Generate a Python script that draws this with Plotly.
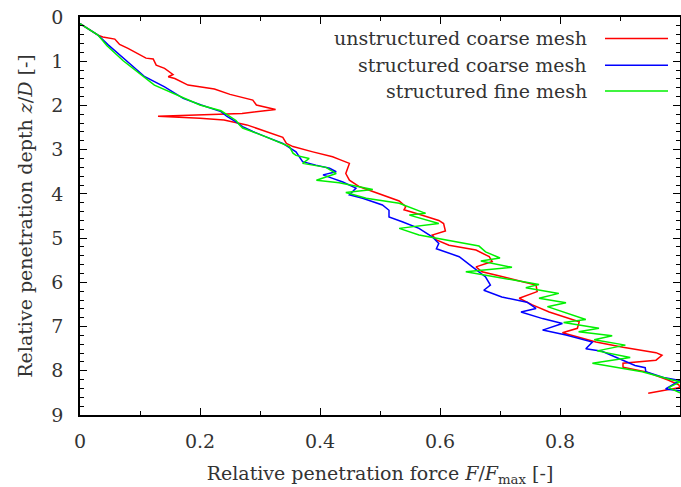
import plotly.graph_objects as go

# Data (x = F/Fmax, y = z/D)
red_x = [0, 0.03, 0.038, 0.058, 0.062, 0.066, 0.08, 0.102, 0.11, 0.122, 0.125, 0.127, 0.141, 0.155, 0.147, 0.158,
         0.18, 0.224, 0.25, 0.288, 0.294, 0.316, 0.326, 0.27, 0.13, 0.2, 0.24, 0.278, 0.31, 0.338, 0.344, 0.355,
         0.388, 0.421, 0.432, 0.449, 0.443, 0.449, 0.466, 0.488, 0.532, 0.543, 0.54, 0.565, 0.598, 0.606, 0.609,
         0.587, 0.594, 0.615, 0.66, 0.682, 0.687, 0.66, 0.67, 0.703, 0.76, 0.762, 0.732, 0.754, 0.782, 0.832,
         0.829, 0.804, 0.86, 0.905, 0.96, 0.97, 0.96, 0.905, 0.905, 0.942, 0.98, 0.998, 1.0, 0.947]
red_y = [0.15, 0.41, 0.45, 0.50, 0.56, 0.62, 0.71, 0.86, 0.93, 0.95, 1.02, 1.09, 1.16, 1.30, 1.35, 1.39,
         1.54, 1.63, 1.75, 1.88, 1.99, 2.06, 2.09, 2.18, 2.245, 2.29, 2.33, 2.44, 2.59, 2.72, 2.86, 2.93,
         3.05, 3.16, 3.22, 3.31, 3.54, 3.69, 3.84, 3.95, 4.16, 4.29, 4.36, 4.46, 4.60, 4.67, 4.84,
         4.93, 5.04, 5.16, 5.27, 5.42, 5.53, 5.65, 5.76, 5.87, 6.06, 6.21, 6.36, 6.51, 6.67, 6.89,
         7.04, 7.14, 7.35, 7.47, 7.59, 7.65, 7.76, 7.83, 7.92, 8.02, 8.21, 8.32, 8.38, 8.51]

blue_x = [0, 0.03, 0.047, 0.075, 0.108, 0.141, 0.163, 0.172, 0.202, 0.235, 0.245, 0.26, 0.271, 0.288, 0.31,
          0.338, 0.36, 0.371, 0.393, 0.416, 0.427, 0.405, 0.421, 0.438, 0.46, 0.449, 0.471, 0.504, 0.515,
          0.515, 0.537, 0.565, 0.587, 0.598, 0.594, 0.632, 0.654, 0.676, 0.684, 0.673, 0.703, 0.745, 0.76,
          0.735, 0.771, 0.804, 0.771, 0.81, 0.854, 0.843, 0.87, 0.925, 0.942, 0.943, 0.975, 1.0, 0.976, 1.0]
blue_y = [0.15, 0.41, 0.63, 0.97, 1.35, 1.58, 1.76, 1.84, 1.99, 2.14, 2.25, 2.37, 2.48, 2.59, 2.71,
          2.86, 3.05, 3.27, 3.35, 3.42, 3.50, 3.57, 3.65, 3.73, 3.87, 4.02, 4.10, 4.25, 4.37,
          4.52, 4.63, 4.78, 4.97, 5.12, 5.24, 5.42, 5.65, 5.88, 6.06, 6.18, 6.33, 6.45, 6.59,
          6.67, 6.82, 6.93, 7.08, 7.19, 7.35, 7.50, 7.56, 7.88, 7.93, 8.02, 8.16, 8.22, 8.41, 8.45]

green_x = [0, 0.03, 0.045, 0.072, 0.124, 0.163, 0.2, 0.235, 0.26, 0.266, 0.271, 0.31, 0.349, 0.355, 0.36,
           0.382, 0.371, 0.41, 0.427, 0.394, 0.432, 0.488, 0.443, 0.477, 0.532, 0.576, 0.549, 0.598, 0.532,
           0.565, 0.665, 0.676, 0.70, 0.668, 0.72, 0.643, 0.765, 0.743, 0.798, 0.765, 0.81, 0.779, 0.843,
           0.806, 0.865, 0.831, 0.887, 0.857, 0.909, 0.862, 0.917, 0.854, 0.937, 0.987, 1.0, 0.981, 1.0]
green_y = [0.15, 0.41, 0.65, 0.99, 1.54, 1.78, 1.99, 2.12, 2.34, 2.44, 2.51, 2.71, 2.93, 3.08, 3.13,
           3.20, 3.31, 3.40, 3.54, 3.69, 3.75, 3.90, 3.97, 4.10, 4.21, 4.44, 4.48, 4.67, 4.78,
           4.93, 5.18, 5.31, 5.45, 5.52, 5.66, 5.76, 6.05, 6.12, 6.25, 6.36, 6.46, 6.55, 6.84,
           6.91, 7.04, 7.12, 7.21, 7.30, 7.42, 7.55, 7.70, 7.83, 8.02, 8.21, 8.25, 8.38, 8.50]

names = ["unstructured coarse mesh", "structured coarse mesh", "structured fine mesh"]
colors = ["#ff0000", "#0000ff", "#00f000"]
series = [(red_x, red_y), (blue_x, blue_y), (green_x, green_y)]

x_ticks = [0, 0.2, 0.4, 0.6, 0.8, 1]
x_labels = ["0", "0.2", "0.4", "0.6", "0.8", "1"]
y_ticks = [0, 1, 2, 3, 4, 5, 6, 7, 8, 9]

FONT = "DejaVu Serif"
TXT = "#333333"

fig = go.Figure()
for (xs, ys), nm, c in zip(series, names, colors):
    fig.add_trace(go.Scatter(x=xs, y=ys, mode="lines", name=nm, showlegend=False,
                             line=dict(color=c, width=1.5)))

# Manual legend (text on left, line sample on right)
leg_y = [0.946, 0.879, 0.814]
for nm, c, yy in zip(names, colors, leg_y):
    fig.add_annotation(xref="paper", yref="paper", x=0.848, y=yy, text=nm, showarrow=False,
                       xanchor="right", yanchor="middle", font=dict(family=FONT, size=19, color=TXT))
    fig.add_shape(type="line", xref="paper", yref="paper", x0=0.875, x1=0.98, y0=yy, y1=yy,
                  line=dict(color=c, width=1.5))

axis_common = dict(showgrid=False, zeroline=False, showline=True, linecolor="black", linewidth=1.5,
                   mirror="allticks", ticks="inside", tickcolor="black", tickwidth=1,
                   tickfont=dict(family=FONT, size=19, color=TXT), automargin=False)

fig.update_xaxes(range=[0, 1], tickmode="array", tickvals=x_ticks, ticktext=x_labels, ticklen=7,
                 minor=dict(dtick=0.1, ticklen=4, ticks="inside", tickcolor="black"),
                 ticklabelstandoff=8,
                 title=dict(text="Relative penetration force <i>F</i>/<i>F</i><sub>max</sub> [-]",
                            font=dict(family=FONT, size=19, color=TXT), standoff=18),
                 **axis_common)
fig.update_yaxes(range=[9, 0], tickmode="array", tickvals=y_ticks, ticklen=7,
                 minor=dict(dtick=0.2, ticklen=4, ticks="inside", tickcolor="black"),
                 ticklabelstandoff=11,
                 title=dict(text="Relative penetration depth <i>z</i>/<i>D</i> [-]",
                            font=dict(family=FONT, size=19, color=TXT), standoff=14),
                 **axis_common)

fig.update_layout(width=681, height=487, margin=dict(l=80, r=1, t=17, b=72),
                  plot_bgcolor="white", paper_bgcolor="white", font=dict(family=FONT, color=TXT))

fig.write_html("out.html")
